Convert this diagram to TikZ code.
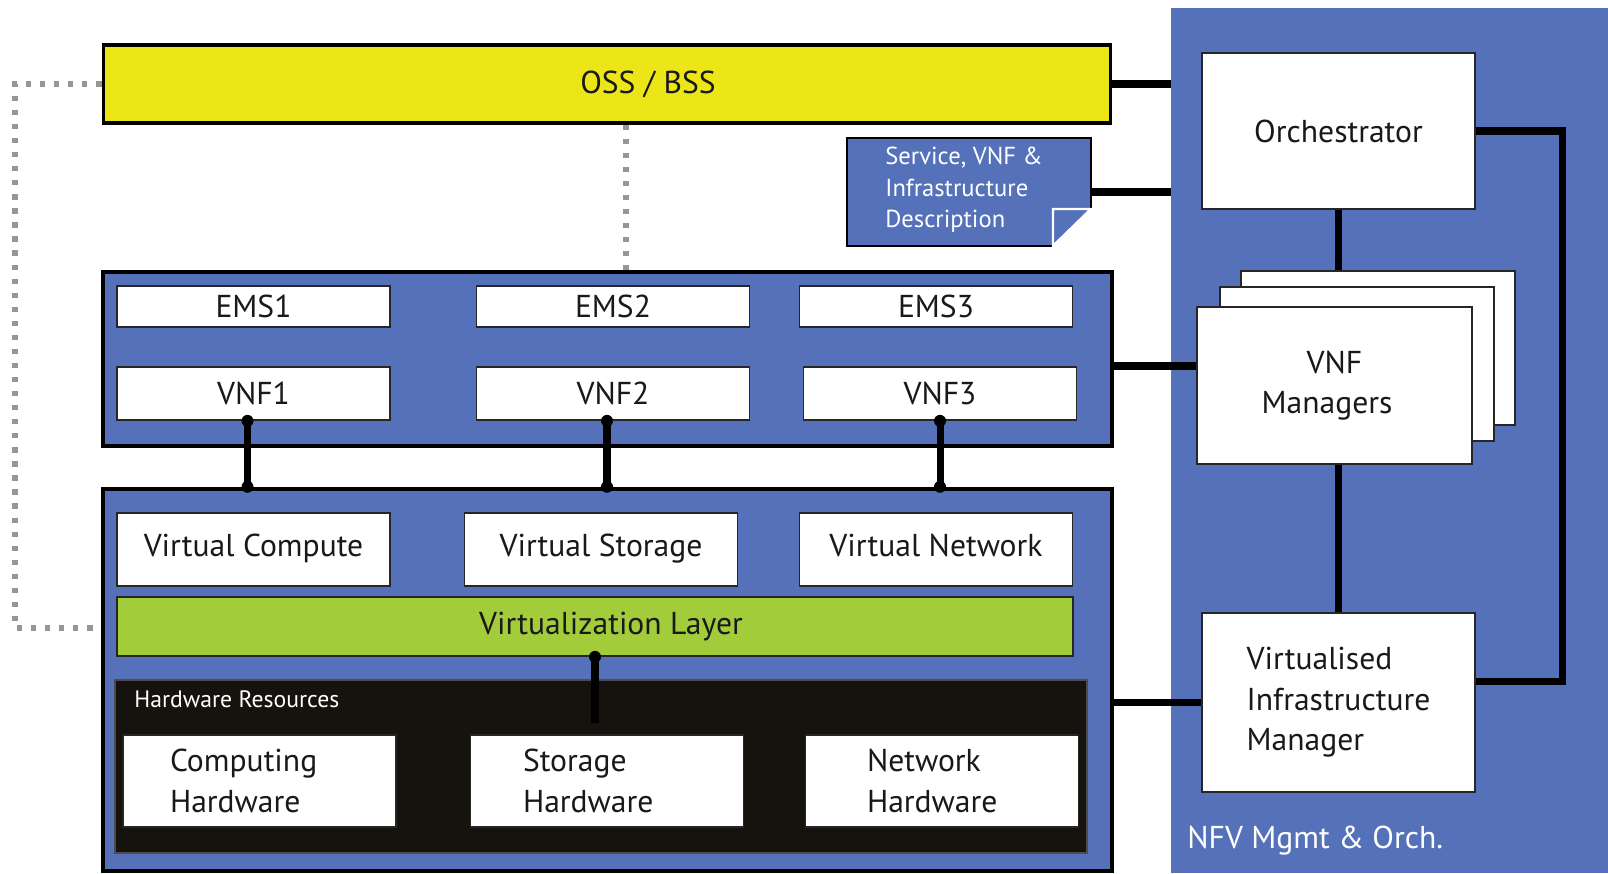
\documentclass[tikz,border=0pt]{standalone}
\usepackage{fontspec}
\setmainfont{PT Sans}
\usepackage{tikz}

\definecolor{nfvblue}{RGB}{84,113,185}
\definecolor{ossyellow}{RGB}{236,230,22}
\definecolor{layergreen}{RGB}{162,204,58}
\definecolor{hwblack}{RGB}{22,19,14}
\definecolor{dotgray}{RGB}{150,150,150}

\begin{document}
\begin{tikzpicture}[x=0.02cm, y=-0.02cm,
    every node/.style={font=\fontsize{18}{23}\selectfont, text=black!90},
    box/.style={draw=black!85, line width=1pt, fill=white, minimum width=5.46cm, inner sep=0pt},
    vbox/.style={box, minimum height=1.46cm, text height=2.1ex, text depth=0.6ex},
    hwbox/.style={box, minimum height=1.84cm, align=left},
    group/.style={draw=black, line width=2.6pt, fill=nfvblue, minimum width=20.18cm},
    link/.style={line width=4pt},
    dotline/.style={dotgray, line width=3pt, dash pattern=on 3pt off 5pt},
    joint/.style={circle, fill=black, inner sep=0pt, minimum size=0.24cm}]
    \useasboundingbox (0,0) rectangle (1608,873);

    % management & orchestration panel
    \node[fill=nfvblue, minimum width=8.74cm, minimum height=17.3cm, inner sep=0pt] (nfvo) at (1389.5,440.5) {};
    \node[anchor=west, text=white, inner sep=0pt] (nfvlabel) at (1187,841) {NFV Mgmt \& Orch.};

    \node[draw=black, line width=1.8pt, fill=ossyellow, minimum width=20.16cm, minimum height=1.56cm] (oss) at (607,84) {\hspace*{1.64cm}OSS / BSS};

    % descriptor with folded corner
    \node[draw=black, line width=1.4pt, fill=nfvblue, minimum width=4.88cm, minimum height=2.16cm] (descbox) at (969,192) {};
    \fill[white] (1093,207.5) -- (1094,249) -- (1051.5,249) -- cycle;
    \draw[white, fill=nfvblue, line width=1.4pt] (1053,209) -- (1091,209) -- (1053,246) -- cycle;
    \node[anchor=west, align=left, text=white, inner sep=0pt, font=\fontsize{14}{18}\selectfont] (desc) at (885,190) {Service, VNF \&\\Infrastructure\\Description};

    \node[box, minimum height=3.12cm] (orch) at (1338.5,131) {Orchestrator};
    \node[box, minimum width=5.48cm, minimum height=3.08cm] (vnfmc) at (1378,348) {};
    \node[box, minimum width=5.48cm, minimum height=3.08cm] (vnfmb) at (1357,364) {};
    \node[box, minimum width=5.5cm, minimum height=3.14cm, align=center] (vnfm) at (1334.5,385.5) {VNF\\Managers\hspace*{0.3cm}};
    \node[box, minimum height=3.58cm, align=left] (vim) at (1338.5,702.5) {Virtualised\\Infrastructure\\Manager};

    % VNF layer
    \node[group, minimum height=3.48cm] (vnfgroup) at (607.5,359) {};
    \node[box, minimum height=0.82cm] (ems1) at (253.5,306.5) {EMS1};
    \node[box, minimum height=0.82cm] (ems2) at (613,306.5) {EMS2};
    \node[box, minimum height=0.82cm] (ems3) at (936,306.5) {EMS3};
    \node[box, minimum height=1.06cm] (vnf1) at (253.5,393.5) {VNF1};
    \node[box, minimum height=1.06cm] (vnf2) at (613,393.5) {VNF2};
    \node[box, minimum height=1.06cm] (vnf3) at (940,393.5) {VNF3};

    % infrastructure
    \node[group, minimum height=7.64cm] (infra) at (607.5,680) {};
    \node[vbox] (vcomp) at (253.5,549.5) {Virtual Compute};
    \node[vbox] (vstor) at (601,549.5) {Virtual Storage};
    \node[vbox] (vnet) at (936,549.5) {Virtual Network};
    \node[draw=black!85, line width=1pt, fill=layergreen, minimum width=19.12cm, minimum height=1.18cm] (vlayer) at (595,626.5) {\hspace*{0.64cm}Virtualization Layer};
    \node[draw=black!70, line width=1pt, fill=hwblack, minimum width=19.44cm, minimum height=3.46cm] (hwres) at (601,766.5) {};
    \node[anchor=west, text=white, inner sep=0pt, font=\fontsize{13.5}{16}\selectfont] (hwlabel) at (134,699) {Hardware Resources};
    \node[hwbox, text width=3.58cm] (comphw) at (259.5,781) {Computing\\Hardware};
    \node[hwbox, text width=3.36cm] (storhw) at (607,781) {Storage\\Hardware};
    \node[hwbox, text width=3.0cm] (nethw) at (942,781) {Network\\Hardware};

    % reference points
    \coordinate (ossdrop) at (626,123);
    \coordinate (dl) at (15,628);
    \coordinate (loopx) at (1562,131);
    \coordinate (hwend) at (595,723);

    % dotted management links
    \draw[dotline] (ossdrop |- oss.south) -- (ossdrop |- vnfgroup.north);
    \draw[dotline] (oss.west) -| (dl) -- (dl -| infra.west);

    % reference points links
    \draw[link] (oss.east) -- (oss.east -| nfvo.west);
    \draw[link] (descbox.east) -- (descbox.east -| nfvo.west);
    \draw[link] ([yshift=-0.14cm]vnfgroup.east) -- ([yshift=-0.14cm]vnfgroup.east -| vnfm.west);
    \draw[link] (vim.west) -- (vim.west -| infra.east);
    \draw[link] (orch.south) -- (orch.south |- vnfmc.north);
    \draw[link] (orch.south |- vnfm.south) -- (orch.south |- vim.north);
    \draw[link] (orch.east) -- (loopx) |- ([yshift=0.42cm]vim.east);

    % VNFs down to the infrastructure
    \foreach \v/\dx in {vnf1/-0.12, vnf2/-0.12, vnf3/0} {
        \draw[link] ([xshift=\dx cm]\v.south) -- ([xshift=\dx cm]\v.south |- infra.north);
        \node[joint] at ([xshift=\dx cm]\v.south) {};
        \node[joint] at ([xshift=\dx cm]\v.south |- infra.north) {};
    }
    \draw[link] (vlayer.south) -- (hwend);
    \node[joint] at (vlayer.south) {};
\end{tikzpicture}
\end{document}
